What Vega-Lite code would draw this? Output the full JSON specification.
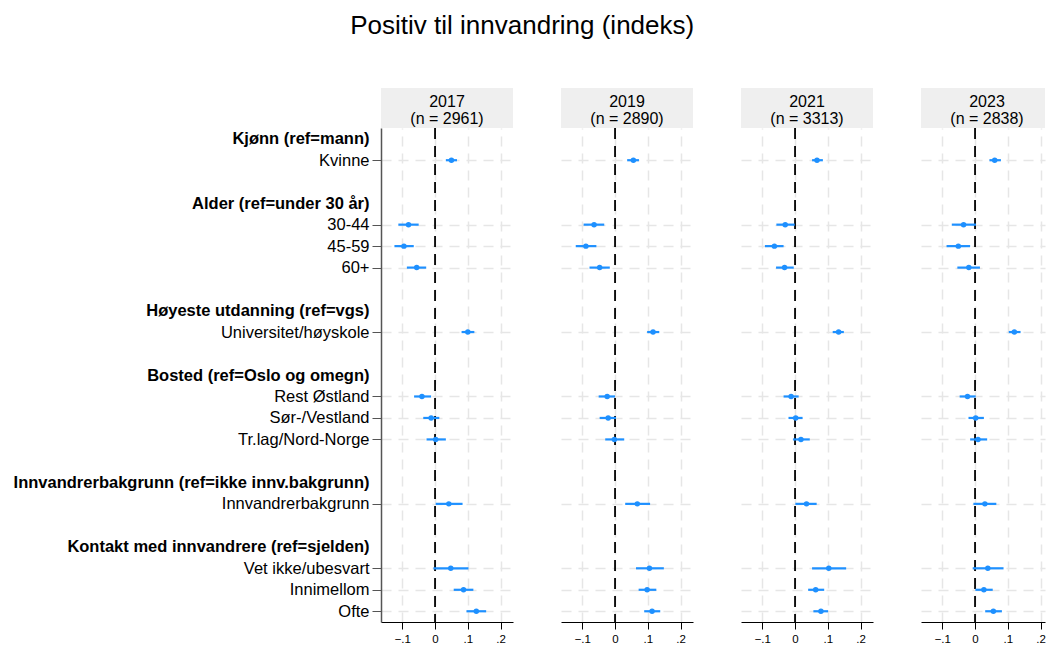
{
  "$schema": "https://vega.github.io/schema/vega-lite/v6.json",
  "padding": {"left": 13, "top": 13, "right": 0, "bottom": 0},
  "title": {"text": "Positiv til innvandring (indeks)", "fontSize": 26, "fontWeight": "normal", "font": "Liberation Sans", "color": "black", "anchor": "middle", "offset": 49, "dx": -7},
  "config": {"font": "Liberation Sans", "view": {"stroke": null}},
  "datasets": {
    "coef": [
      {"year": 2017, "item": "Kvinne", "est": 0.050, "lo": 0.033, "hi": 0.067},
      {"year": 2017, "item": "30-44", "est": -0.081, "lo": -0.112, "hi": -0.050},
      {"year": 2017, "item": "45-59", "est": -0.095, "lo": -0.124, "hi": -0.065},
      {"year": 2017, "item": "60+", "est": -0.056, "lo": -0.086, "hi": -0.027},
      {"year": 2017, "item": "Universitet/høyskole", "est": 0.100, "lo": 0.081, "hi": 0.120},
      {"year": 2017, "item": "Rest Østland", "est": -0.040, "lo": -0.064, "hi": -0.012},
      {"year": 2017, "item": "Sør-/Vestland", "est": -0.012, "lo": -0.036, "hi": 0.013},
      {"year": 2017, "item": "Tr.lag/Nord-Norge", "est": 0.002, "lo": -0.026, "hi": 0.033},
      {"year": 2017, "item": "Innvandrerbakgrunn", "est": 0.042, "lo": 0.002, "hi": 0.084},
      {"year": 2017, "item": "Vet ikke/ubesvart", "est": 0.048, "lo": -0.005, "hi": 0.102},
      {"year": 2017, "item": "Innimellom", "est": 0.087, "lo": 0.057, "hi": 0.117},
      {"year": 2017, "item": "Ofte", "est": 0.126, "lo": 0.096, "hi": 0.156},
      {"year": 2019, "item": "Kvinne", "est": 0.056, "lo": 0.037, "hi": 0.073},
      {"year": 2019, "item": "30-44", "est": -0.064, "lo": -0.096, "hi": -0.033},
      {"year": 2019, "item": "45-59", "est": -0.089, "lo": -0.120, "hi": -0.057},
      {"year": 2019, "item": "60+", "est": -0.047, "lo": -0.078, "hi": -0.016},
      {"year": 2019, "item": "Universitet/høyskole", "est": 0.116, "lo": 0.098, "hi": 0.135},
      {"year": 2019, "item": "Rest Østland", "est": -0.024, "lo": -0.050, "hi": 0.000},
      {"year": 2019, "item": "Sør-/Vestland", "est": -0.021, "lo": -0.047, "hi": 0.003},
      {"year": 2019, "item": "Tr.lag/Nord-Norge", "est": -0.002, "lo": -0.030, "hi": 0.028},
      {"year": 2019, "item": "Innvandrerbakgrunn", "est": 0.068, "lo": 0.031, "hi": 0.107},
      {"year": 2019, "item": "Vet ikke/ubesvart", "est": 0.105, "lo": 0.064, "hi": 0.149},
      {"year": 2019, "item": "Innimellom", "est": 0.098, "lo": 0.072, "hi": 0.126},
      {"year": 2019, "item": "Ofte", "est": 0.113, "lo": 0.089, "hi": 0.138},
      {"year": 2021, "item": "Kvinne", "est": 0.067, "lo": 0.052, "hi": 0.085},
      {"year": 2021, "item": "30-44", "est": -0.030, "lo": -0.057, "hi": -0.001},
      {"year": 2021, "item": "45-59", "est": -0.063, "lo": -0.092, "hi": -0.035},
      {"year": 2021, "item": "60+", "est": -0.032, "lo": -0.058, "hi": -0.004},
      {"year": 2021, "item": "Universitet/høyskole", "est": 0.133, "lo": 0.115, "hi": 0.149},
      {"year": 2021, "item": "Rest Østland", "est": -0.012, "lo": -0.035, "hi": 0.011},
      {"year": 2021, "item": "Sør-/Vestland", "est": 0.002, "lo": -0.020, "hi": 0.023},
      {"year": 2021, "item": "Tr.lag/Nord-Norge", "est": 0.018, "lo": -0.006, "hi": 0.045},
      {"year": 2021, "item": "Innvandrerbakgrunn", "est": 0.035, "lo": 0.001, "hi": 0.066},
      {"year": 2021, "item": "Vet ikke/ubesvart", "est": 0.103, "lo": 0.052, "hi": 0.156},
      {"year": 2021, "item": "Innimellom", "est": 0.063, "lo": 0.040, "hi": 0.089},
      {"year": 2021, "item": "Ofte", "est": 0.079, "lo": 0.056, "hi": 0.101},
      {"year": 2023, "item": "Kvinne", "est": 0.060, "lo": 0.044, "hi": 0.079},
      {"year": 2023, "item": "30-44", "est": -0.035, "lo": -0.071, "hi": 0.003},
      {"year": 2023, "item": "45-59", "est": -0.051, "lo": -0.087, "hi": -0.015},
      {"year": 2023, "item": "60+", "est": -0.019, "lo": -0.054, "hi": 0.015},
      {"year": 2023, "item": "Universitet/høyskole", "est": 0.120, "lo": 0.103, "hi": 0.139},
      {"year": 2023, "item": "Rest Østland", "est": -0.023, "lo": -0.047, "hi": 0.002},
      {"year": 2023, "item": "Sør-/Vestland", "est": 0.002, "lo": -0.020, "hi": 0.027},
      {"year": 2023, "item": "Tr.lag/Nord-Norge", "est": 0.009, "lo": -0.015, "hi": 0.037},
      {"year": 2023, "item": "Innvandrerbakgrunn", "est": 0.030, "lo": -0.005, "hi": 0.065},
      {"year": 2023, "item": "Vet ikke/ubesvart", "est": 0.039, "lo": -0.007, "hi": 0.087},
      {"year": 2023, "item": "Innimellom", "est": 0.027, "lo": 0.001, "hi": 0.054},
      {"year": 2023, "item": "Ofte", "est": 0.056, "lo": 0.031, "hi": 0.082}
    ],
    "hdr": [
      {"year": 2017, "label": "2017\n(n = 2961)"},
      {"year": 2019, "label": "2019\n(n = 2890)"},
      {"year": 2021, "label": "2021\n(n = 3313)"},
      {"year": 2023, "label": "2023\n(n = 2838)"}
    ],
    "zero": [{"ref": 0}]
  },
  "spacing": 48,
  "hconcat": [
    {
      "spacing": 0, "bounds": "flush",
      "vconcat": [
        {"width": 132, "height": 40, "view": {"fill": "#efefef", "stroke": null},
         "data": {"name": "hdr"}, "transform": [{"filter": "datum.year == 2017"}],
         "mark": {"type": "text", "fontSize": 16, "lineBreak": "\n", "lineHeight": 17, "baseline": "middle", "dy": -6, "color": "black"},
         "encoding": {"text": {"field": "label", "type": "nominal"}}},
        {"width": 132, "height": 494,
         "layer": [
          {"data": {"name": "zero"}, "mark": {"type": "rule", "color": "black", "strokeWidth": 1.8, "strokeDash": [11, 7]},
           "encoding": {"x": {"field": "ref", "type": "quantitative", "title": null, "scale": {"domain": [-0.165, 0.238], "nice": false, "zero": false},
             "axis": {"values": [-0.1, 0, 0.1, 0.2], "labelExpr": "datum.value == 0 ? '0' : replace(format(datum.value, '.1f'), '0.', '.')", "grid": true, "gridColor": "#e6e6e6", "gridDash": [10, 7], "gridWidth": 1.5, "domainColor": "black", "tickColor": "black", "tickSize": 7, "labelFontSize": 11.5, "labelColor": "black", "labelPadding": 4, "labelOverlap": false}}}},
          {"data": {"name": "coef"}, "transform": [{"filter": "datum.year == 2017"}],
           "mark": {"type": "rule", "color": "#1e90ff", "strokeWidth": 2.2},
           "encoding": {
             "x": {"field": "lo", "type": "quantitative", "title": null, "scale": {"domain": [-0.165, 0.238], "nice": false, "zero": false}},
             "x2": {"field": "hi"},
             "y": {"field": "item", "type": "ordinal", "title": null,
               "scale": {"type": "point", "padding": 0.5, "domain": ["Kjønn (ref=mann)","Kvinne"," ","Alder (ref=under 30 år)","30-44","45-59","60+","  ","Høyeste utdanning (ref=vgs)","Universitet/høyskole","   ","Bosted (ref=Oslo og omegn)","Rest Østland","Sør-/Vestland","Tr.lag/Nord-Norge","    ","Innvandrerbakgrunn (ref=ikke innv.bakgrunn)","Innvandrerbakgrunn","     ","Kontakt med innvandrere (ref=sjelden)","Vet ikke/ubesvart","Innimellom","Ofte"]},
               "axis": {"values": ["Kjønn (ref=mann)","Kvinne","Alder (ref=under 30 år)","30-44","45-59","60+","Høyeste utdanning (ref=vgs)","Universitet/høyskole","Bosted (ref=Oslo og omegn)","Rest Østland","Sør-/Vestland","Tr.lag/Nord-Norge","Innvandrerbakgrunn (ref=ikke innv.bakgrunn)","Innvandrerbakgrunn","Kontakt med innvandrere (ref=sjelden)","Vet ikke/ubesvart","Innimellom","Ofte"],
                 "labelFontSize": 16.5, "labelColor": "black", "labelLimit": 0, "labelPadding": 3, "tickSize": 9, "tickColor": "#555555", "domainColor": "#555555", "domainWidth": 1.5,
                 "labelFontWeight": {"condition": {"test": "indexof(datum.value, '(ref=') >= 0", "value": "bold"}, "value": "normal"},
                 "tickOpacity": {"condition": {"test": "indexof(datum.value, '(ref=') >= 0", "value": 0}, "value": 1},
                 "grid": true, "gridColor": "#e6e6e6", "gridDash": [10, 7], "gridWidth": 1.5,
                 "gridOpacity": {"condition": {"test": "indexof(datum.value, '(ref=') >= 0", "value": 0}, "value": 1}}}}},
          {"data": {"name": "coef"}, "transform": [{"filter": "datum.year == 2017"}],
           "mark": {"type": "circle", "color": "#1e90ff", "opacity": 1, "size": 30},
           "encoding": {
             "x": {"field": "est", "type": "quantitative", "title": null, "scale": {"domain": [-0.165, 0.238], "nice": false, "zero": false}},
             "y": {"field": "item", "type": "ordinal", "title": null}}}
         ]}
      ]
    },
    {
      "spacing": 0, "bounds": "flush",
      "vconcat": [
        {"width": 132, "height": 40, "view": {"fill": "#efefef", "stroke": null},
         "data": {"name": "hdr"}, "transform": [{"filter": "datum.year == 2019"}],
         "mark": {"type": "text", "fontSize": 16, "lineBreak": "\n", "lineHeight": 17, "baseline": "middle", "dy": -6, "color": "black"},
         "encoding": {"text": {"field": "label", "type": "nominal"}}},
        {"width": 132, "height": 494,
         "layer": [
          {"data": {"name": "zero"}, "mark": {"type": "rule", "color": "black", "strokeWidth": 1.8, "strokeDash": [11, 7]},
           "encoding": {"x": {"field": "ref", "type": "quantitative", "title": null, "scale": {"domain": [-0.165, 0.238], "nice": false, "zero": false},
             "axis": {"values": [-0.1, 0, 0.1, 0.2], "labelExpr": "datum.value == 0 ? '0' : replace(format(datum.value, '.1f'), '0.', '.')", "grid": true, "gridColor": "#e6e6e6", "gridDash": [10, 7], "gridWidth": 1.5, "domainColor": "black", "tickColor": "black", "tickSize": 7, "labelFontSize": 11.5, "labelColor": "black", "labelPadding": 4, "labelOverlap": false}}}},
          {"data": {"name": "coef"}, "transform": [{"filter": "datum.year == 2019"}],
           "mark": {"type": "rule", "color": "#1e90ff", "strokeWidth": 2.2},
           "encoding": {
             "x": {"field": "lo", "type": "quantitative", "title": null, "scale": {"domain": [-0.165, 0.238], "nice": false, "zero": false}},
             "x2": {"field": "hi"},
             "y": {"field": "item", "type": "ordinal", "title": null,
               "scale": {"type": "point", "padding": 0.5, "domain": ["Kjønn (ref=mann)","Kvinne"," ","Alder (ref=under 30 år)","30-44","45-59","60+","  ","Høyeste utdanning (ref=vgs)","Universitet/høyskole","   ","Bosted (ref=Oslo og omegn)","Rest Østland","Sør-/Vestland","Tr.lag/Nord-Norge","    ","Innvandrerbakgrunn (ref=ikke innv.bakgrunn)","Innvandrerbakgrunn","     ","Kontakt med innvandrere (ref=sjelden)","Vet ikke/ubesvart","Innimellom","Ofte"]},
               "axis": {"values": ["Kvinne","30-44","45-59","60+","Universitet/høyskole","Rest Østland","Sør-/Vestland","Tr.lag/Nord-Norge","Innvandrerbakgrunn","Vet ikke/ubesvart","Innimellom","Ofte"],
                 "labels": false, "ticks": false, "domain": false,
                 "grid": true, "gridColor": "#e6e6e6", "gridDash": [10, 7], "gridWidth": 1.5}}}},
          {"data": {"name": "coef"}, "transform": [{"filter": "datum.year == 2019"}],
           "mark": {"type": "circle", "color": "#1e90ff", "opacity": 1, "size": 30},
           "encoding": {
             "x": {"field": "est", "type": "quantitative", "title": null, "scale": {"domain": [-0.165, 0.238], "nice": false, "zero": false}},
             "y": {"field": "item", "type": "ordinal", "title": null}}}
         ]}
      ]
    },
    {
      "spacing": 0, "bounds": "flush",
      "vconcat": [
        {"width": 132, "height": 40, "view": {"fill": "#efefef", "stroke": null},
         "data": {"name": "hdr"}, "transform": [{"filter": "datum.year == 2021"}],
         "mark": {"type": "text", "fontSize": 16, "lineBreak": "\n", "lineHeight": 17, "baseline": "middle", "dy": -6, "color": "black"},
         "encoding": {"text": {"field": "label", "type": "nominal"}}},
        {"width": 132, "height": 494,
         "layer": [
          {"data": {"name": "zero"}, "mark": {"type": "rule", "color": "black", "strokeWidth": 1.8, "strokeDash": [11, 7]},
           "encoding": {"x": {"field": "ref", "type": "quantitative", "title": null, "scale": {"domain": [-0.165, 0.238], "nice": false, "zero": false},
             "axis": {"values": [-0.1, 0, 0.1, 0.2], "labelExpr": "datum.value == 0 ? '0' : replace(format(datum.value, '.1f'), '0.', '.')", "grid": true, "gridColor": "#e6e6e6", "gridDash": [10, 7], "gridWidth": 1.5, "domainColor": "black", "tickColor": "black", "tickSize": 7, "labelFontSize": 11.5, "labelColor": "black", "labelPadding": 4, "labelOverlap": false}}}},
          {"data": {"name": "coef"}, "transform": [{"filter": "datum.year == 2021"}],
           "mark": {"type": "rule", "color": "#1e90ff", "strokeWidth": 2.2},
           "encoding": {
             "x": {"field": "lo", "type": "quantitative", "title": null, "scale": {"domain": [-0.165, 0.238], "nice": false, "zero": false}},
             "x2": {"field": "hi"},
             "y": {"field": "item", "type": "ordinal", "title": null,
               "scale": {"type": "point", "padding": 0.5, "domain": ["Kjønn (ref=mann)","Kvinne"," ","Alder (ref=under 30 år)","30-44","45-59","60+","  ","Høyeste utdanning (ref=vgs)","Universitet/høyskole","   ","Bosted (ref=Oslo og omegn)","Rest Østland","Sør-/Vestland","Tr.lag/Nord-Norge","    ","Innvandrerbakgrunn (ref=ikke innv.bakgrunn)","Innvandrerbakgrunn","     ","Kontakt med innvandrere (ref=sjelden)","Vet ikke/ubesvart","Innimellom","Ofte"]},
               "axis": {"values": ["Kvinne","30-44","45-59","60+","Universitet/høyskole","Rest Østland","Sør-/Vestland","Tr.lag/Nord-Norge","Innvandrerbakgrunn","Vet ikke/ubesvart","Innimellom","Ofte"],
                 "labels": false, "ticks": false, "domain": false,
                 "grid": true, "gridColor": "#e6e6e6", "gridDash": [10, 7], "gridWidth": 1.5}}}},
          {"data": {"name": "coef"}, "transform": [{"filter": "datum.year == 2021"}],
           "mark": {"type": "circle", "color": "#1e90ff", "opacity": 1, "size": 30},
           "encoding": {
             "x": {"field": "est", "type": "quantitative", "title": null, "scale": {"domain": [-0.165, 0.238], "nice": false, "zero": false}},
             "y": {"field": "item", "type": "ordinal", "title": null}}}
         ]}
      ]
    },
    {
      "spacing": 0, "bounds": "flush",
      "vconcat": [
        {"width": 124, "height": 40, "view": {"fill": "#efefef", "stroke": null},
         "data": {"name": "hdr"}, "transform": [{"filter": "datum.year == 2023"}],
         "mark": {"type": "text", "fontSize": 16, "lineBreak": "\n", "lineHeight": 17, "baseline": "middle", "dy": -6, "dx": 4, "color": "black"},
         "encoding": {"text": {"field": "label", "type": "nominal"}}},
        {"width": 124, "height": 494,
         "layer": [
          {"data": {"name": "zero"}, "mark": {"type": "rule", "color": "black", "strokeWidth": 1.8, "strokeDash": [11, 7]},
           "encoding": {"x": {"field": "ref", "type": "quantitative", "title": null, "scale": {"domain": [-0.165, 0.2136], "nice": false, "zero": false},
             "axis": {"values": [-0.1, 0, 0.1, 0.2], "labelExpr": "datum.value == 0 ? '0' : replace(format(datum.value, '.1f'), '0.', '.')", "grid": true, "gridColor": "#e6e6e6", "gridDash": [10, 7], "gridWidth": 1.5, "domainColor": "black", "tickColor": "black", "tickSize": 7, "labelFontSize": 11.5, "labelColor": "black", "labelPadding": 4, "labelOverlap": false}}}},
          {"data": {"name": "coef"}, "transform": [{"filter": "datum.year == 2023"}],
           "mark": {"type": "rule", "color": "#1e90ff", "strokeWidth": 2.2},
           "encoding": {
             "x": {"field": "lo", "type": "quantitative", "title": null, "scale": {"domain": [-0.165, 0.2136], "nice": false, "zero": false}},
             "x2": {"field": "hi"},
             "y": {"field": "item", "type": "ordinal", "title": null,
               "scale": {"type": "point", "padding": 0.5, "domain": ["Kjønn (ref=mann)","Kvinne"," ","Alder (ref=under 30 år)","30-44","45-59","60+","  ","Høyeste utdanning (ref=vgs)","Universitet/høyskole","   ","Bosted (ref=Oslo og omegn)","Rest Østland","Sør-/Vestland","Tr.lag/Nord-Norge","    ","Innvandrerbakgrunn (ref=ikke innv.bakgrunn)","Innvandrerbakgrunn","     ","Kontakt med innvandrere (ref=sjelden)","Vet ikke/ubesvart","Innimellom","Ofte"]},
               "axis": {"values": ["Kvinne","30-44","45-59","60+","Universitet/høyskole","Rest Østland","Sør-/Vestland","Tr.lag/Nord-Norge","Innvandrerbakgrunn","Vet ikke/ubesvart","Innimellom","Ofte"],
                 "labels": false, "ticks": false, "domain": false,
                 "grid": true, "gridColor": "#e6e6e6", "gridDash": [10, 7], "gridWidth": 1.5}}}},
          {"data": {"name": "coef"}, "transform": [{"filter": "datum.year == 2023"}],
           "mark": {"type": "circle", "color": "#1e90ff", "opacity": 1, "size": 30},
           "encoding": {
             "x": {"field": "est", "type": "quantitative", "title": null, "scale": {"domain": [-0.165, 0.2136], "nice": false, "zero": false}},
             "y": {"field": "item", "type": "ordinal", "title": null}}}
         ]}
      ]
    }
  ]
}
